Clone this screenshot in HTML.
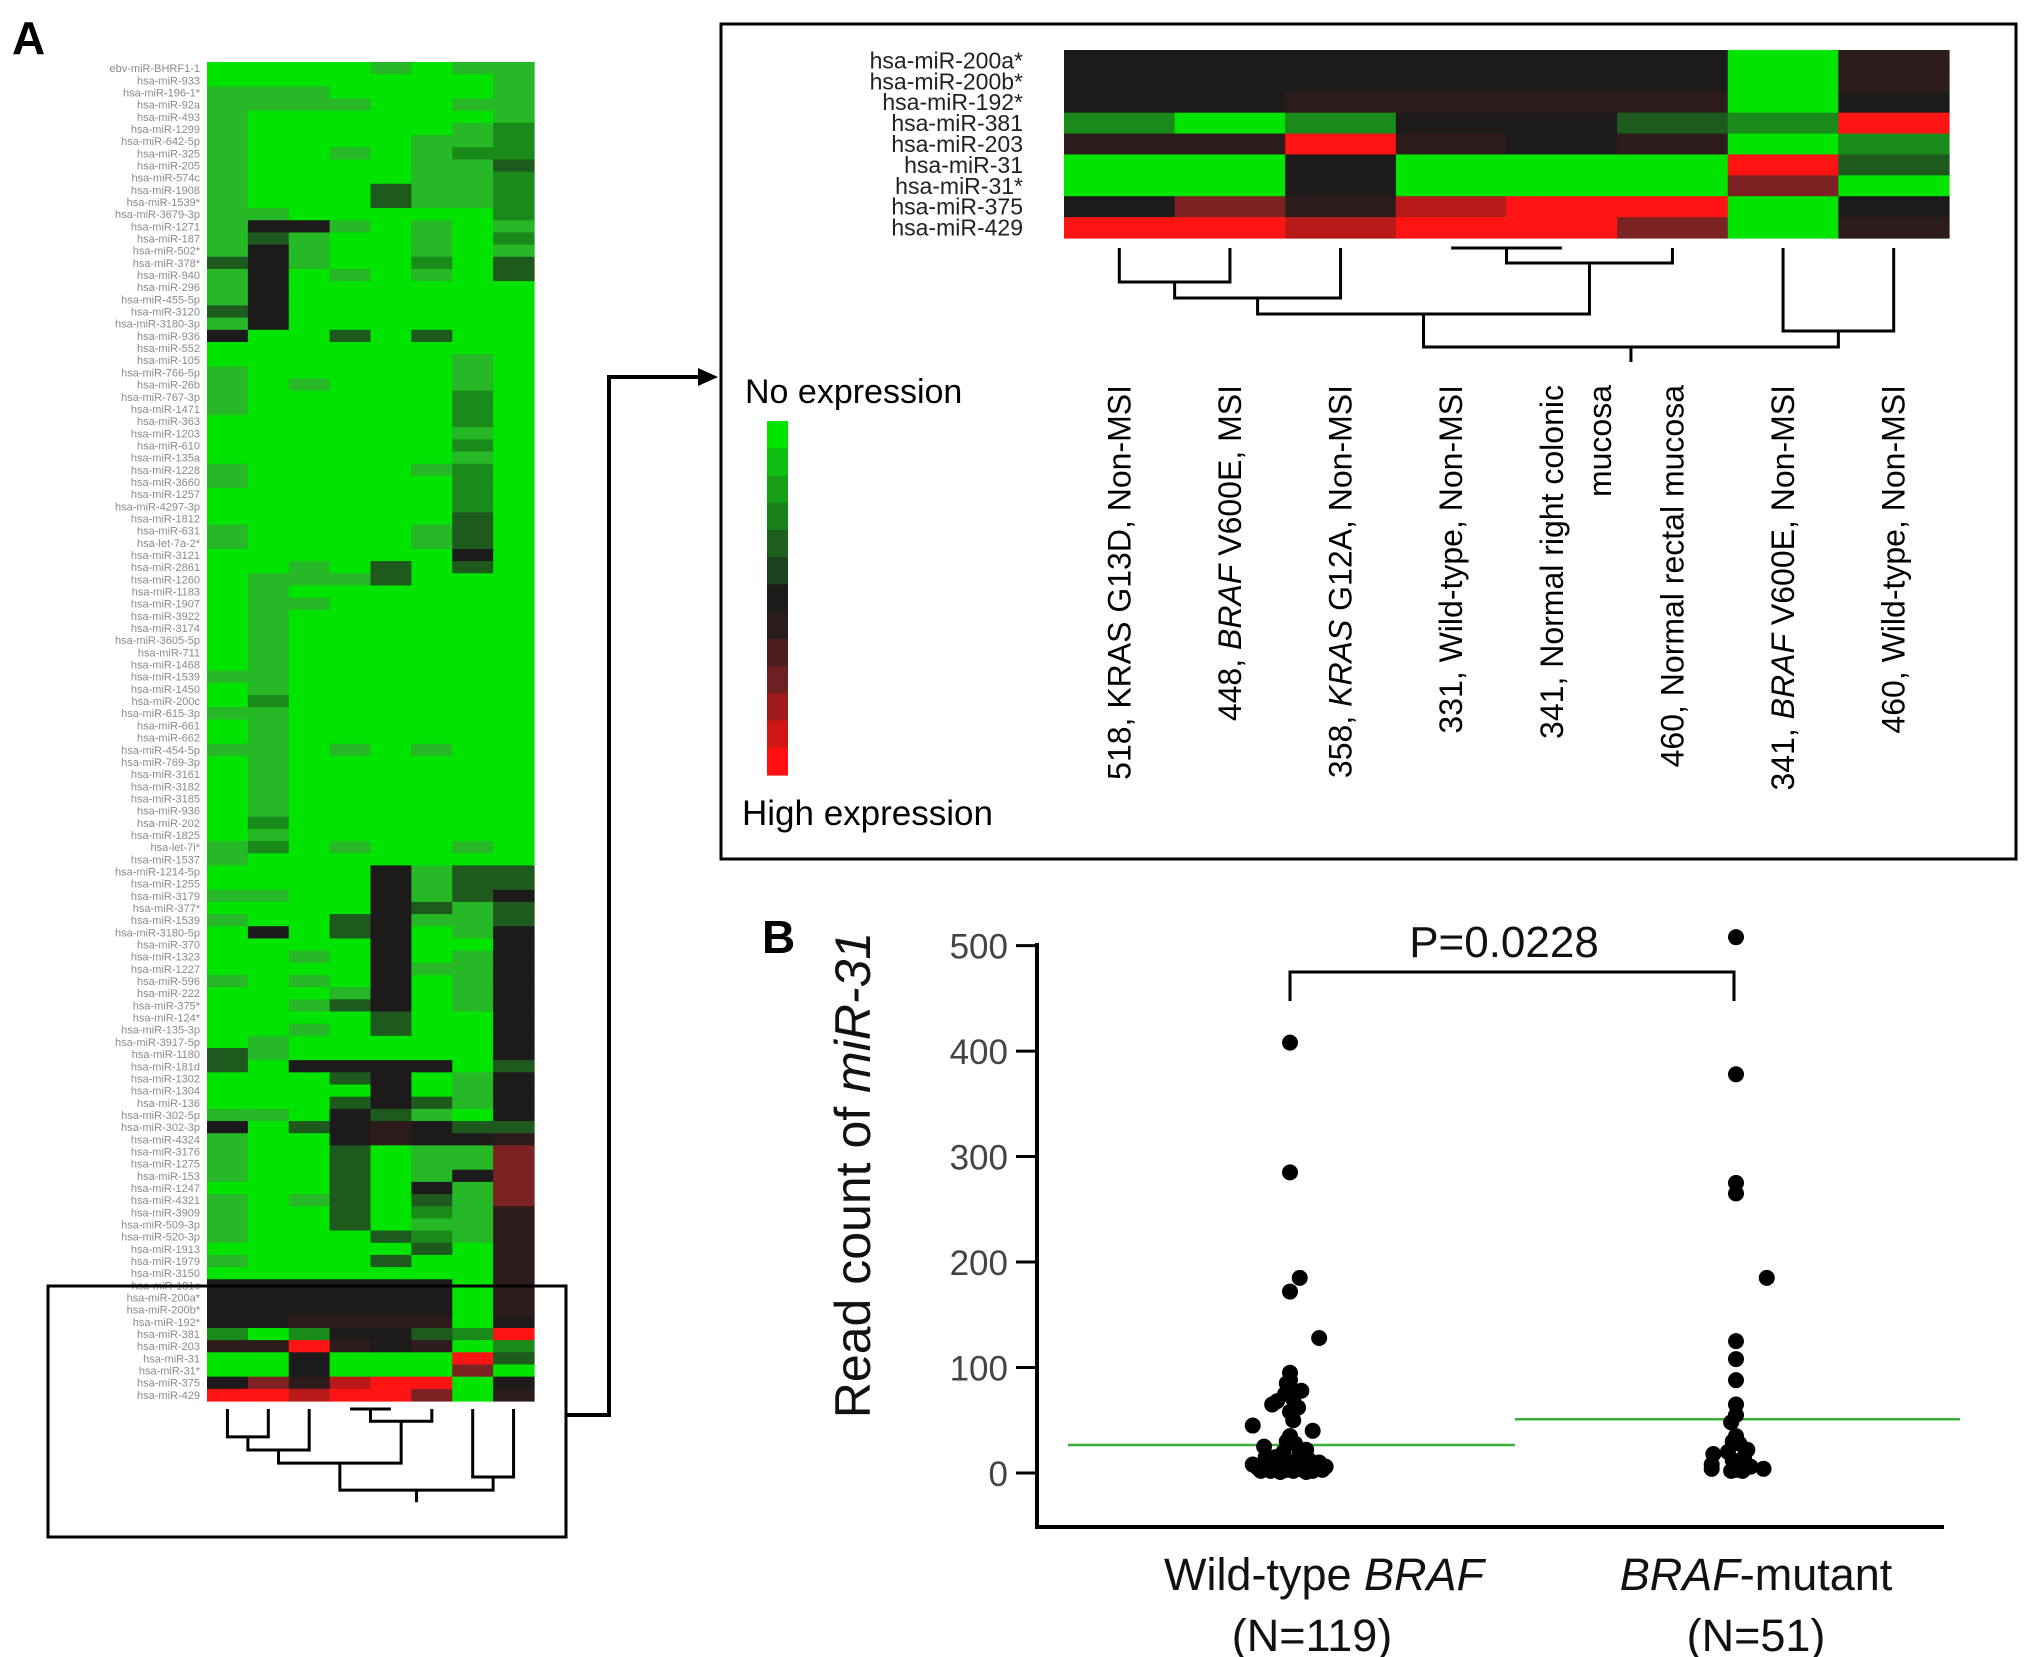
<!DOCTYPE html>
<html><head><meta charset="utf-8"><title>miR-31 figure</title>
<style>
html,body{margin:0;padding:0;background:#fff;}
svg{display:block;font-family:"Liberation Sans",Arial,sans-serif;}
</style></head>
<body>
<svg id="fig" width="2031" height="1657" viewBox="0 0 2031 1657" xmlns="http://www.w3.org/2000/svg">
  <text x="12" y="54" font-size="46" font-weight="bold">A</text>
  <g id="bigHeat"></g>
  <g id="bigLabels"></g>
  <g id="bigDendro" stroke="#000" stroke-width="3" fill="none"></g>
  <rect x="48" y="1286" width="518" height="251" fill="none" stroke="#000" stroke-width="3"/>
  <polyline points="566,1415 609,1415 609,377 700,377" fill="none" stroke="#000" stroke-width="4"/>
  <polygon points="718,377 698,368 698,386" fill="#000"/>
  <rect x="721" y="24" width="1295" height="835" fill="none" stroke="#000" stroke-width="3"/>
  <g id="smallHeat"></g>
  <g id="smallLabels"></g>
  <g id="smallDendro" stroke="#000" stroke-width="3" fill="none"></g>
  <g id="colLabels" font-size="32"></g>
  <text x="745" y="403" font-size="34">No expression</text>
  <g id="colorbar"></g>
  <text x="742" y="825" font-size="35">High expression</text>

  <text x="762" y="953" font-size="46" font-weight="bold">B</text>
  <g id="scatter"></g>
</svg>
<script>
const NS='http://www.w3.org/2000/svg';
function mk(tag,attrs,parent){const e=document.createElementNS(NS,tag);for(const k in attrs)e.setAttribute(k,attrs[k]);if(parent)parent.appendChild(e);return e;}
const palette={G:'#00e400',g:'#26b826',h:'#1a8a1a',d:'#1e5a1e',k:'#1c1a1a',q:'#2e1c1c',r:'#7d2222',s:'#b81a1a',R:'#ff1414'};

// ---- detail heatmap data ----
const detailRows=['hsa-miR-200a*','hsa-miR-200b*','hsa-miR-192*','hsa-miR-381','hsa-miR-203','hsa-miR-31','hsa-miR-31*','hsa-miR-375','hsa-miR-429'];
const detailValues=['kkkkkkGq','kkkkkkGq','kkqqqqGk','hGhkkdhR','qqRqkqGh','GGkGGGRd','GGkGGGrG','krqsRRGk','RRsRRrGq'];
const detailCols=[
 ['518, KRAS G13D, Non-MSI'],['448, <i>BRAF</i> V600E, MSI'],['358, <i>KRAS</i> G12A, Non-MSI'],
 ['331, Wild-type, Non-MSI'],['341, Normal right colonic','mucosa'],['460, Normal rectal mucosa'],
 ['341, <i>BRAF</i> V600E, Non-MSI'],['460, Wild-type, Non-MSI']];
const dendroMerges=[[3,4,0],[0,1,34],[8,5,15],[9,2,50],[11,10,66],[6,7,83],[12,13,99]];

// ---- overview heatmap data ----
const overviewValues=[
'GGGGgGgg','GGGGGGGg','gggGGGGg','ggggGGgg','gGGGGGGg','gGGGGGgh','gGGGGggh','gGGgGghh','gGGGGggd','gGGGGggh',
'gGGGdggh','gGGGdggh','ggGGGGGh','gkkgGgGg','gdgGGgGh','gkgGGgGg','dkgGGhGd','gkGgGgGd','gkGGGGGG','gkGGGGGG',
'dkGGGGGG','gkGGGGGG','kGGdGdGG','GGGGGGGG','GGGGGGgG','gGGGGGgG','gGgGGGgG','gGGGGGhG','gGGGGGhG','GGGGGGhG',
'GGGGGGgG','GGGGGGhG','GGGGGGgG','gGGGGghG','gGGGGGhG','GGGGGGhG','GGGGGGhG','GGGGGGdG','gGGGGgdG','gGGGGgdG',
'GGGGGGkG','GGgGdGdG','GgggdGGG','GgGGGGGG','GggGGGGG','GgGGGGGG','GgGGGGGG','GgGGGGGG','GgGGGGGG','GgGGGGGG',
'ggGGGGGG','GgGGGGGG','GhGGGGGG','ggGGGGGG','GgGGGGGG','GgGGGGGG','ggGgGgGG','GgGGGGGG','GgGGGGGG','GgGGGGGG',
'GgGGGGGG','GgGGGGGG','GhGGGGGG','GgGGGGGG','ghGgGGgG','gGGGGGGG','GGGGkgdd','GGGGkgdd','ggGGkgdk','GGGGkdgd',
'gGGdkggd','GkGdkGgk','GGGGkGGk','GGgGkGgk','GGGGkggk','gGgGkGgk','GGGgkGgk','GGgdkGgk','GGGGdGGk','GGgGdGGk',
'GgGGGGGk','dgGGGGGk','dGkkkkGd','GGGdkGgk','GGGGkGgk','GGGdkdgk','ggGkdgGk','kGdkqkdd','gGGkqkkq','gGGdGggr',
'gGGdGggr','gGGdGgkr','GGGdGkgr','gGgdGdgr','gGGdGhgq','gGGdGggq','gGGGdhgq','GGGGGdGq','gGGGdGGq','GGGGGGGq',
'kkkkkkGq'];
const overviewLabels=['ebv-miR-BHRF1-1','hsa-miR-933','hsa-miR-196-1*','hsa-miR-92a','hsa-miR-493','hsa-miR-1299','hsa-miR-642-5p','hsa-miR-325','hsa-miR-205','hsa-miR-574c',
'hsa-miR-1908','hsa-miR-1539*','hsa-miR-3679-3p','hsa-miR-1271','hsa-miR-187','hsa-miR-502*','hsa-miR-378*','hsa-miR-940','hsa-miR-296','hsa-miR-455-5p',
'hsa-miR-3120','hsa-miR-3180-3p','hsa-miR-936','hsa-miR-552','hsa-miR-105','hsa-miR-766-5p','hsa-miR-26b','hsa-miR-767-3p','hsa-miR-1471','hsa-miR-363',
'hsa-miR-1203','hsa-miR-610','hsa-miR-135a','hsa-miR-1228','hsa-miR-3660','hsa-miR-1257','hsa-miR-4297-3p','hsa-miR-1812','hsa-miR-631','hsa-let-7a-2*',
'hsa-miR-3121','hsa-miR-2861','hsa-miR-1260','hsa-miR-1183','hsa-miR-1907','hsa-miR-3922','hsa-miR-3174','hsa-miR-3605-5p','hsa-miR-711','hsa-miR-1468',
'hsa-miR-1539','hsa-miR-1450','hsa-miR-200c','hsa-miR-615-3p','hsa-miR-661','hsa-miR-662','hsa-miR-454-5p','hsa-miR-769-3p','hsa-miR-3161','hsa-miR-3182',
'hsa-miR-3185','hsa-miR-936','hsa-miR-202','hsa-miR-1825','hsa-let-7i*','hsa-miR-1537','hsa-miR-1214-5p','hsa-miR-1255','hsa-miR-3179','hsa-miR-377*',
'hsa-miR-1539','hsa-miR-3180-5p','hsa-miR-370','hsa-miR-1323','hsa-miR-1227','hsa-miR-596','hsa-miR-222','hsa-miR-375*','hsa-miR-124*','hsa-miR-135-3p',
'hsa-miR-3917-5p','hsa-miR-1180','hsa-miR-181d','hsa-miR-1302','hsa-miR-1304','hsa-miR-136','hsa-miR-302-5p','hsa-miR-302-3p','hsa-miR-4324','hsa-miR-3176',
'hsa-miR-1275','hsa-miR-153','hsa-miR-1247','hsa-miR-4321','hsa-miR-3909','hsa-miR-509-3p','hsa-miR-520-3p','hsa-miR-1913','hsa-miR-1979','hsa-miR-3150',
'hsa-miR-181c'];

// ---- scatter data ----
const groups=['Wild-type','Mutant'];
const yTicks=[0,100,200,300,400,500];
const medians=[26.5,51];
const wtValues=[408,285,185,172,128,95,88,80,78,75,68,65,62,58,45,40,35,30,28,25,22,20,18,15,12,10,8,6,5,5,4,4,3,3,3,2,2,2,2,1,1,6,8,10,15,50,70,85];
const wtJitter=[0,0,12,0,36,0,0,0,14,-6,-16,-22,10,0,-46,28,0,-4,6,-32,20,-8,12,-18,24,0,-10,32,-40,-28,-16,8,16,-4,40,-36,4,-24,28,-12,20,44,-46,36,-30,4,4,-4];
const mutValues=[508,378,275,265,185,125,108,88,65,55,48,35,28,22,18,15,12,10,8,6,4,4,3,2,2,20,30];
const mutJitter=[0,0,0,0,38,0,0,0,0,0,-6,0,4,14,-28,10,-4,8,-30,18,-30,34,0,8,-6,-10,-4];

function drawHeat(parent,values,x0,y0,cw,rh,prefix){
  values.forEach((row,i)=>{
    for(let j=0;j<row.length;j++){
      const r=mk('rect',{x:(x0+j*cw).toFixed(2),y:(y0+i*rh).toFixed(2),width:(cw+0.6).toFixed(2),height:(rh+0.6).toFixed(2),fill:palette[row[j]]},parent);
      
      
    }
  });
}
function drawDendro(parent,x0,cw,ytop,scale,stub){
  const nodes=[];for(let i=0;i<8;i++)nodes.push({x:x0+cw*(i+0.5),h:0});
  dendroMerges.forEach(m=>{
    const a=nodes[m[0]],b=nodes[m[1]],yy=ytop+m[2]*scale;
    const p=mk('path',{d:`M${a.x},${ytop+a.h*scale} V${yy} H${b.x} V${ytop+b.h*scale}`},parent);
    
    
    nodes.push({x:(a.x+b.x)/2,h:m[2]});
  });
  const root=nodes[nodes.length-1];
  const s=mk('path',{d:`M${root.x},${ytop+root.h*scale} v${stub}`},parent);
  
  
}

const bx0=207,bcw=(534-207)/8,by0=62,brh=(1401-62)/110;
drawHeat(document.getElementById('bigHeat'),overviewValues.concat(detailValues),bx0,by0,bcw,brh,'overview');
const bl=document.getElementById('bigLabels');
overviewLabels.concat(detailRows).forEach((t,i)=>{
  const e=mk('text',{x:200,y:(by0+(i+0.5)*brh+4).toFixed(1),'font-size':11,'text-anchor':'end',fill:'#8a8a8a'},bl);
  e.textContent=t;
  
  
});
drawDendro(document.getElementById('bigDendro'),bx0,bcw,1409,0.82,12);

const sx0=1064,scw=(1949-1064)/8,sy0=50,srh=(238-50)/9;
drawHeat(document.getElementById('smallHeat'),detailValues,sx0,sy0,scw,srh,'detail');
const sl=document.getElementById('smallLabels');
detailRows.forEach((t,i)=>{
  const e=mk('text',{x:1023,y:(sy0+(i+0.5)*srh+8).toFixed(1),'font-size':23,'text-anchor':'end',fill:'#222'},sl);
  e.textContent=t;
  
  
});
drawDendro(document.getElementById('smallDendro'),sx0,scw,248,1,15);
const cl=document.getElementById('colLabels');
detailCols.forEach((lines,i)=>{
  const cx=sx0+scw*(i+0.5);
  lines.forEach((ln,k)=>{
    const x=cx+(lines.length>1?(k===0?-10:38):0)+11;
    const e=mk('text',{transform:`translate(${x.toFixed(1)},385) rotate(-90)`,'text-anchor':'end'},cl);
    e.innerHTML=ln.replace(/<i>/g,'<tspan font-style="italic">').replace(/<\/i>/g,'</tspan>');
    
    
  });
});
const cbColors=['#00e400','#10c010','#16a016','#1a801a','#1c601c','#1d401d','#1c1c1c','#2a1c1c','#4a1e1e','#6e2020','#a01a1a','#d01515','#ff1010'];
const cb=document.getElementById('colorbar');const cbh=(775-421)/cbColors.length;
cbColors.forEach((c,i)=>{
  const r=mk('rect',{x:767,y:(421+i*cbh).toFixed(1),width:21,height:(cbh+0.6).toFixed(1),fill:c},cb);
  
  
});

const sc=document.getElementById('scatter');
const y=v=>1473-v*1.0548;
const gx=[1290,1736];
let e;
e=mk('line',{x1:1037,y1:943,x2:1037,y2:1527,stroke:'#000','stroke-width':4},sc);

e=mk('line',{x1:1035,y1:1527,x2:1944,y2:1527,stroke:'#000','stroke-width':4},sc);

yTicks.forEach(t=>{
  const l=mk('line',{x1:1016,x2:1037,y1:y(t),y2:y(t),stroke:'#000','stroke-width':3},sc);
  
  
  const tx=mk('text',{x:1008,y:y(t)+13,'font-size':35,'text-anchor':'end',fill:'#444'},sc);
  tx.textContent=t;
  
  
});
e=mk('text',{transform:'translate(870,1175) rotate(-90)','font-size':50,'text-anchor':'middle',fill:'#111'},sc);
e.innerHTML='Read count of <tspan font-style="italic">miR-31</tspan>';

[[1068,1515],[1515,1960]].forEach((r,i)=>{
  const l=mk('line',{x1:r[0],x2:r[1],y1:y(medians[i]),y2:y(medians[i]),stroke:'#3ab03a','stroke-width':2.5},sc);
  
  
});
[[wtValues,wtJitter],[mutValues,mutJitter]].forEach((s,gi)=>{
  s[0].forEach((v,i)=>{
    const c=mk('circle',{cx:gx[gi]+s[1][i]*0.81,cy:y(v),r:8,fill:'#000'},sc);
    
    
  });
});
e=mk('path',{d:'M1290,1001 V972 H1734 V1001',fill:'none',stroke:'#000','stroke-width':3},sc);

e=mk('text',{x:1504,y:957,'font-size':44,'text-anchor':'middle',fill:'#111'},sc);
e.textContent='P=0.0228';

e=mk('text',{x:1324,y:1590,'font-size':45,'text-anchor':'middle',fill:'#111'},sc);
e.innerHTML='Wild-type <tspan font-style="italic">BRAF</tspan>';

e=mk('text',{x:1312,y:1651,'font-size':45,'text-anchor':'middle',fill:'#111'},sc);
e.textContent='(N=119)';

e=mk('text',{x:1756,y:1590,'font-size':45,'text-anchor':'middle',fill:'#111'},sc);
e.innerHTML='<tspan font-style="italic">BRAF</tspan>-mutant';

e=mk('text',{x:1756,y:1651,'font-size':45,'text-anchor':'middle',fill:'#111'},sc);
e.textContent='(N=51)';

</script>
</body></html>
